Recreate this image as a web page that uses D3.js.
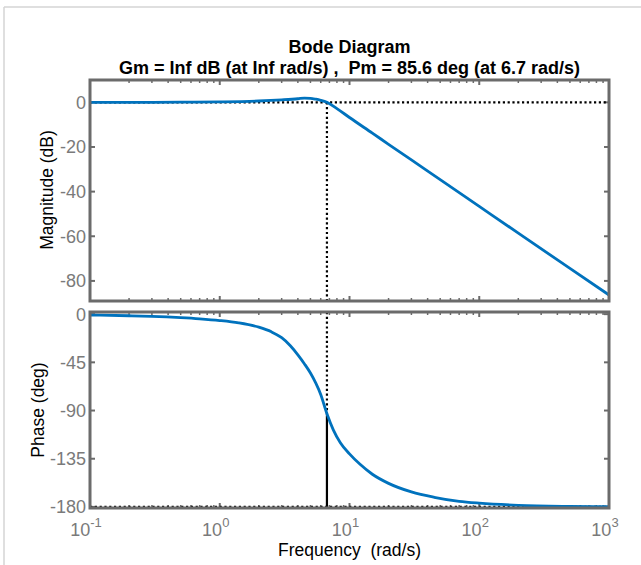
<!DOCTYPE html>
<html>
<head>
<meta charset="utf-8">
<script src="https://cdn.jsdelivr.net/npm/d3@7"></script>
<style>
  body { margin: 0; background: #fff; }
  text { font-family: "Liberation Sans", Arial, sans-serif; }
</style>
</head>
<body>
<div id="chart"></div>
<script>
// values
const magFreq = [0.1, 0.2, 0.5, 1, 2, 3, 4, 4.5, 5, 5.5, 6, 6.7, 8, 10, 15, 20, 30, 50, 100, 200, 500, 1000];
const magDb = [0, 0, 0.05, 0.2, 0.6, 1.1, 1.6, 1.9, 1.8, 1.4, 0.9, 0, -2.8, -6.8, -13.8, -18.8, -25.8, -34.6, -46.6, -58.6, -74.4, -86.3];

const phaseFreq = [0.1, 0.2, 0.3, 0.5, 0.7, 1, 1.4, 2, 2.5, 3, 3.5, 4, 4.5, 5, 5.5, 6, 6.7, 7.5, 8.5, 10, 12, 15, 20, 30, 45, 70, 100, 200, 500, 1000];
const phaseDeg = [-0.8, -1.5, -2.1, -3.3, -4.4, -6, -8.2, -12.2, -16.5, -22, -29.5, -38, -46.5, -55, -64.5, -75, -93, -108, -120, -130.5, -140, -149.5, -158, -166, -171, -174.8, -176.5, -178.5, -179.5, -179.8];

const magTicks = [0, -20, -40, -60, -80];
const phaseTicks = [0, -45, -90, -135, -180];
const freqTicks = [0.1, 1, 10, 100, 1000];
const freqExp = ["-1", "0", "1", "2", "3"];

const wc = 6.7; // crossover frequency
const pmPhase = -94.4; // phase at crossover (Pm = 85.6)

const width = 641;
const height = 565;
const left = 90, right = 609;
const boxColor = "#6b6b6b";
const tickColor = "#7a7a7a";
const blue = "#0072BD";

const svg = d3
  .select("#chart")
  .append("svg")
  .attr("width", width)
  .attr("height", height);

// light frame at the figure edge
svg.append("line")
  .attr("x1", 4).attr("x2", width).attr("y1", 7).attr("y2", 7)
  .attr("stroke", "#d4d4d4").attr("stroke-width", 1.5);
svg.append("line")
  .attr("x1", 4).attr("x2", 4).attr("y1", 7).attr("y2", height)
  .attr("stroke", "#d4d4d4").attr("stroke-width", 1.5);

const x = d3.scaleLog().domain([0.1, 1000]).range([left, right]);
const yMag = d3.scaleLinear().domain([-89, 10]).range([301, 80]);
const yPh = d3.scaleLinear().domain([-181, 2]).range([508, 312]);

// minor ticks 2..9 of every decade
const minorTicks = [];
[0.1, 1, 10, 100].forEach((d) => {
  for (let k = 2; k <= 9; k++) minorTicks.push(d * k);
});

function drawPanel(y, ticks, id) {
  const g = svg.append("g");
  const top = y.range()[1], bottom = y.range()[0];

  g.append("clipPath")
    .attr("id", id)
    .append("rect")
    .attr("x", left)
    .attr("y", top)
    .attr("width", right - left)
    .attr("height", bottom - top);

  // y ticks, left and right
  ticks.forEach((t) => {
    g.append("line")
      .attr("x1", left).attr("x2", left + 5)
      .attr("y1", y(t)).attr("y2", y(t))
      .attr("stroke", boxColor).attr("stroke-width", 2);
    g.append("line")
      .attr("x1", right).attr("x2", right - 5)
      .attr("y1", y(t)).attr("y2", y(t))
      .attr("stroke", boxColor).attr("stroke-width", 2);
    g.append("text")
      .attr("x", left - 4)
      .attr("y", y(t))
      .attr("dy", "0.36em")
      .attr("text-anchor", "end")
      .attr("font-size", 18)
      .attr("fill", tickColor)
      .text(t);
  });

  // x ticks, top and bottom
  freqTicks.slice(1, -1).forEach((f) => {
    [[bottom, -1], [top, 1]].forEach(([yy, s]) => {
      g.append("line")
        .attr("x1", x(f)).attr("x2", x(f))
        .attr("y1", yy).attr("y2", yy + s * 5)
        .attr("stroke", boxColor).attr("stroke-width", 2);
    });
  });
  minorTicks.forEach((f) => {
    [[bottom, -1], [top, 1]].forEach(([yy, s]) => {
      g.append("line")
        .attr("x1", x(f)).attr("x2", x(f))
        .attr("y1", yy).attr("y2", yy + s * 3)
        .attr("stroke", boxColor).attr("stroke-width", 1.5);
    });
  });

  return g;
}

const gMag = drawPanel(yMag, magTicks, "clipMag");
const gPh = drawPanel(yPh, phaseTicks, "clipPh");

const dots = "2.2,2.6";

// magnitude: 0 dB line and crossover marker
gMag.append("line")
  .attr("x1", left).attr("x2", right)
  .attr("y1", yMag(0)).attr("y2", yMag(0))
  .attr("stroke", "#000").attr("stroke-width", 2.2)
  .attr("stroke-dasharray", dots);
gMag.append("line")
  .attr("x1", x(wc)).attr("x2", x(wc))
  .attr("y1", yMag(0)).attr("y2", yMag.range()[0])
  .attr("stroke", "#000").attr("stroke-width", 2.2)
  .attr("stroke-dasharray", dots);

// phase: -180 line and margin marker
gPh.append("line")
  .attr("x1", left).attr("x2", right)
  .attr("y1", yPh(-180)).attr("y2", yPh(-180))
  .attr("stroke", "#000").attr("stroke-width", 2.2)
  .attr("stroke-dasharray", dots);
gPh.append("line")
  .attr("x1", x(wc)).attr("x2", x(wc))
  .attr("y1", yPh.range()[1]).attr("y2", yPh(pmPhase))
  .attr("stroke", "#000").attr("stroke-width", 2.2)
  .attr("stroke-dasharray", dots);
gPh.append("line")
  .attr("x1", x(wc)).attr("x2", x(wc))
  .attr("y1", yPh(pmPhase)).attr("y2", yPh(-180))
  .attr("stroke", "#000").attr("stroke-width", 2.2);

const magLine = d3
  .line()
  .curve(d3.curveMonotoneX)
  .x((d, i) => x(magFreq[i]))
  .y((d) => yMag(d));
const phLine = d3
  .line()
  .curve(d3.curveMonotoneX)
  .x((d, i) => x(phaseFreq[i]))
  .y((d) => yPh(d));

gMag.append("path")
  .attr("d", magLine(magDb))
  .attr("clip-path", "url(#clipMag)")
  .attr("fill", "none")
  .attr("stroke", blue)
  .attr("stroke-width", 2.8);
gPh.append("path")
  .attr("d", phLine(phaseDeg))
  .attr("clip-path", "url(#clipPh)")
  .attr("fill", "none")
  .attr("stroke", blue)
  .attr("stroke-width", 2.8);

// axes boxes on top
[yMag, yPh].forEach((y) => {
  svg.append("rect")
    .attr("x", left)
    .attr("y", y.range()[1])
    .attr("width", right - left)
    .attr("height", y.range()[0] - y.range()[1])
    .attr("fill", "none")
    .attr("stroke", boxColor)
    .attr("stroke-width", 3);
});

// frequency tick labels as 10^n
freqTicks.forEach((f, i) => {
  const t = svg.append("text")
    .attr("x", x(f) - 4)
    .attr("y", 536)
    .attr("text-anchor", "middle")
    .attr("font-size", 18)
    .attr("fill", tickColor);
  t.append("tspan").text("10");
  t.append("tspan")
    .attr("dy", -9)
    .attr("font-size", 13)
    .text(freqExp[i]);
});

// titles and axis labels
svg.append("text")
  .attr("x", (left + right) / 2)
  .attr("y", 53)
  .attr("text-anchor", "middle")
  .attr("font-size", 18)
  .attr("font-weight", "bold")
  .text("Bode Diagram");
svg.append("text")
  .attr("x", (left + right) / 2)
  .attr("y", 74)
  .attr("text-anchor", "middle")
  .attr("font-size", 18)
  .attr("font-weight", "bold")
  .attr("xml:space", "preserve")
  .text("Gm = Inf dB (at Inf rad/s) ,  Pm = 85.6 deg (at 6.7 rad/s)");

svg.append("text")
  .attr("transform", "translate(53,190) rotate(-90)")
  .attr("text-anchor", "middle")
  .attr("font-size", 17.5)
  .text("Magnitude (dB)");
svg.append("text")
  .attr("transform", "translate(44,410) rotate(-90)")
  .attr("text-anchor", "middle")
  .attr("font-size", 17.5)
  .text("Phase (deg)");
svg.append("text")
  .attr("x", (left + right) / 2)
  .attr("y", 556)
  .attr("text-anchor", "middle")
  .attr("font-size", 17.5)
  .attr("xml:space", "preserve")
  .text("Frequency  (rad/s)");
</script>
</body>
</html>
